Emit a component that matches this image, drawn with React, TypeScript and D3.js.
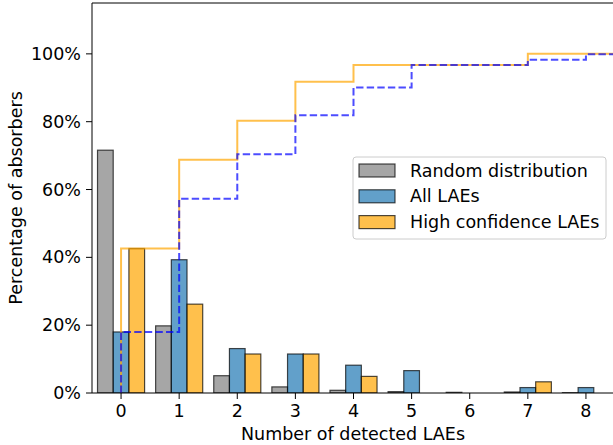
import React from "react";
import * as d3 from "d3";

const categories = [0, 1, 2, 3, 4, 5, 6, 7, 8];
const randomDist = [71.6, 19.8, 5.1, 1.8, 0.8, 0.4, 0.2, 0.3, 0.1];
const allLAEs = [18.0, 39.3, 13.1, 11.5, 8.2, 6.6, 0, 1.6, 1.6];
const highConf = [42.6, 26.2, 11.5, 11.5, 4.9, 0, 0, 3.3, 0];
const yTicks = [0, 20, 40, 60, 80, 100];
const seriesNames = ["Random distribution", "All LAEs", "High confidence LAEs"];
const seriesColors = ["#808080", "#1f77b4", "#ffa500"];

const W = 613;
const H = 445;
const FONT = "DejaVu Sans, sans-serif";
const FS = 17.5;

function cumulative(arr: number[]) {
  let s = 0;
  return arr.map((v) => (s += v));
}

export default function App() {
  const x = d3.scaleLinear().domain([-0.5, 8.5]).range([92, 615]);
  const y = d3.scaleLinear().domain([0, 115]).range([393, 3]);
  const bw = 0.27;
  const unit = x(1) - x(0);

  const series = [randomDist, allLAEs, highConf];
  const offsets = [-bw, 0, bw];

  const stepPts = (vals: number[]) => {
    const c = cumulative(vals);
    const pts: [number, number][] = [[0, 0]];
    c.forEach((v, i) => {
      pts.push([i, v]);
      pts.push([i + 1, v]);
    });
    return pts;
  };
  const line = d3
    .line<[number, number]>()
    .x((d) => x(d[0]))
    .y((d) => y(Math.min(d[1], 100)));

  return (
    <div style={{ position: "absolute", left: 0, top: 0 }}>
      <svg width={W} height={H} style={{ display: "block", fontFamily: FONT }}>
        <rect x={0} y={0} width={W} height={H} fill="white" />
        <defs>
          <clipPath id="plot">
            <rect x={92} y={3} width={523} height={390} />
          </clipPath>
        </defs>
        <g clipPath="url(#plot)">
          {series.map((vals, si) =>
            vals.map((v, i) => (
              <rect
                key={`${si}-${i}`}
                x={x(categories[i] + offsets[si] - bw / 2)}
                y={y(v)}
                width={bw * unit}
                height={y(0) - y(v)}
                fill={seriesColors[si]}
                fillOpacity={0.7}
                stroke="black"
                strokeOpacity={0.7}
                strokeWidth={1.2}
              />
            ))
          )}
          <path
            d={line(stepPts(highConf)) || ""}
            fill="none"
            stroke="#ffa500"
            strokeOpacity={0.7}
            strokeWidth={2}
          />
          <path
            d={line(stepPts(allLAEs)) || ""}
            fill="none"
            stroke="#0000ff"
            strokeOpacity={0.7}
            strokeWidth={2}
            strokeDasharray="7.4,3.2"
          />
        </g>
        {/* spines */}
        <line x1={92} x2={92} y1={3} y2={393} stroke="black" strokeWidth={1} />
        <line x1={92} x2={615} y1={3} y2={3} stroke="black" strokeWidth={1} />
        <line x1={92} x2={615} y1={393} y2={393} stroke="black" strokeWidth={1} />
        {/* y ticks */}
        {yTicks.map((t) => (
          <g key={t}>
            <line x1={86} x2={92} y1={y(t)} y2={y(t)} stroke="black" strokeWidth={1} />
            <text
              x={81}
              y={y(t)}
              dy="0.35em"
              textAnchor="end"
              fontSize={FS}
              fill="black"
            >
              {`${t}%`}
            </text>
          </g>
        ))}
        {/* x ticks */}
        {categories.map((c) => (
          <g key={c}>
            <line x1={x(c)} x2={x(c)} y1={393} y2={399} stroke="black" strokeWidth={1} />
            <text x={x(c)} y={417} textAnchor="middle" fontSize={FS} fill="black">
              {c}
            </text>
          </g>
        ))}
        <text x={353} y={440} textAnchor="middle" fontSize={FS} fill="black">
          Number of detected LAEs
        </text>
        <text
          transform={`translate(22,198) rotate(-90)`}
          textAnchor="middle"
          fontSize={FS}
          fill="black"
        >
          Percentage of absorbers
        </text>
        {/* legend */}
        <rect
          x={353}
          y={157}
          width={253}
          height={82}
          rx={3}
          fill="white"
          fillOpacity={0.8}
          stroke="#cccccc"
          strokeWidth={1}
        />
        {seriesNames.map((n, i) => (
          <g key={n}>
            <rect
              x={359}
              y={164 + i * 25.8}
              width={36}
              height={13}
              fill={seriesColors[i]}
              fillOpacity={0.7}
              stroke="black"
              strokeOpacity={0.7}
              strokeWidth={1.2}
            />
            <text x={410} y={170.5 + i * 25.8} dy="0.35em" fontSize={FS} fill="black">
              {n}
            </text>
          </g>
        ))}
      </svg>
    </div>
  );
}
